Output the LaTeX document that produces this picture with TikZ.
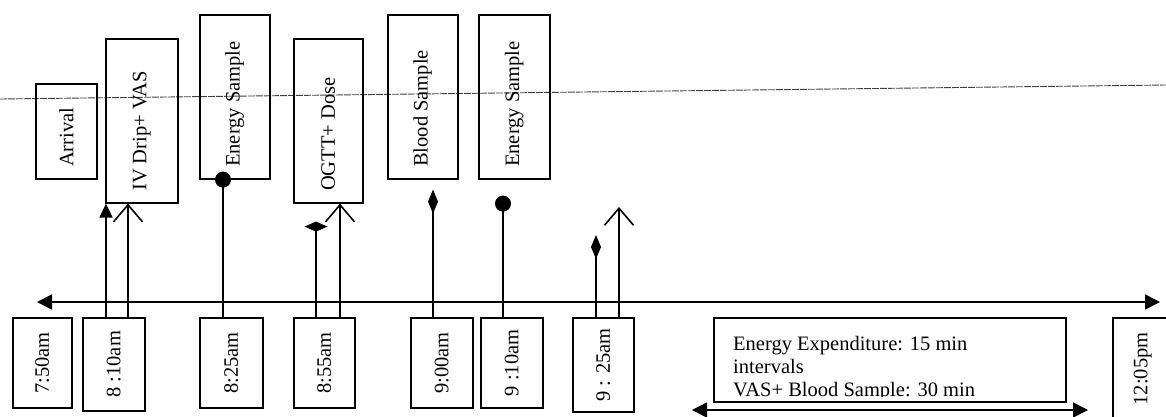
\documentclass[tikz,border=0pt]{standalone}
\usepackage{fontspec}
\setmainfont{Liberation Serif}
\usepackage{graphicx}
\usetikzlibrary{arrows.meta,calc}

\newcommand{\uptext}[1]{\rotatebox{90}{#1}}
\newcommand{\upleft}[2]{\rotatebox{90}{\makebox[#1pt][l]{#2}}}

\begin{document}
\begin{tikzpicture}[
    x=1pt, y=-1pt,
    every node/.style={font=\fontsize{20.5}{23}\selectfont},
    tbox/.style={rectangle, draw, line width=1.6pt, anchor=north west, inner sep=0pt, minimum height=90pt},
    ebox/.style={rectangle, draw, line width=1.6pt, anchor=north west, inner sep=0pt, minimum height=164pt},
    conn/.style={line width=1.6pt},
    fillarr/.style={conn, -{Triangle[length=14pt,width=13pt]}},
    openarr/.style={conn, -{Straight Barb[length=17pt,width=29pt]}},
    diamarr/.style={conn, -{Diamond[length=24pt,width=10pt]}},
    flatdiam/.style={conn, -{Diamond[length=10pt,width=23pt]}},
    dotline/.style={conn, -{Circle[length=16pt]}},
    both/.style={conn, {Triangle[length=15pt,width=15pt]}-{Triangle[length=15pt,width=15pt]}}
]
\clip (0,0) rectangle (1166,416);

% fold line of the scan
\draw[line width=0.9pt, black!75, dash pattern=on 7pt off 1pt] (0,99) -- (1166,85);

% events
\node[ebox, minimum width=61pt, minimum height=95pt] (arrival) at (35,83) {\upleft{71}{Arrival}};
\node[ebox, minimum width=72pt] (iv) at (105,38) {\upleft{140}{IV Drip+ VAS}};
\node[ebox, minimum width=70pt] (es1) at (199,14) {\upleft{140}{Energy Sample}};
\node[ebox, minimum width=69pt] (ogtt) at (293,38) {\upleft{140}{OGTT+ Dose}};
\node[ebox, minimum width=70pt] (blood) at (387,14) {\upleft{140}{Blood Sample}};
\node[ebox, minimum width=71pt] (es2) at (478,14) {\upleft{140}{Energy Sample}};

% times
\node[tbox, minimum width=59pt] (t750) at (12,317) {\uptext{7:50am}};
\node[tbox, minimum width=62pt, minimum height=93pt] (t810) at (82,317) {\uptext{8 :10am}};
\node[tbox, minimum width=63pt] (t825) at (199,317) {\uptext{8:25am}};
\node[tbox, minimum width=61pt] (t855) at (293,317) {\uptext{8:55am}};
\node[tbox, minimum width=62pt] (t900) at (410,317) {\uptext{9:00am}};
\node[tbox, minimum width=62pt] (t910) at (480,317) {\uptext{9 :10am}};
\node[tbox, minimum width=61pt, minimum height=94pt] (t925) at (572,317) {\uptext{9 : 25am}};
\node[tbox, minimum width=60pt, minimum height=102pt] (t1205) at (1112,317) {\uptext{12:05pm}};

% timeline
\coordinate (tl-start) at (37,302);
\coordinate (tl-end) at (1160,302);
\draw[both] (tl-start) -- (tl-end);

% markers
\draw[fillarr] ([xshift=24pt]t810.north west) -- ([xshift=1pt]iv.south west);
\draw[openarr] ([xshift=46pt]t810.north west) -- ([xshift=23pt]iv.south west);
\draw[dotline, shorten >=-8pt] ([xshift=24pt]t825.north west) -- ([xshift=24pt]es1.south west);
\draw[flatdiam, shorten >=18pt] ([xshift=23pt]t855.north west) -- ([xshift=23pt]ogtt.south west);
\draw[openarr] ([xshift=47pt]t855.north west) -- ([xshift=47pt]ogtt.south west);
\draw[diamarr, shorten >=10pt] ([xshift=23pt]t900.north west) -- ([xshift=46pt]blood.south west);
\draw[dotline, shorten >=16pt] ([xshift=23pt]t910.north west) -- ([xshift=25pt]es2.south west);
\coordinate (d925) at (596,235);
\coordinate (a925) at (619,207);
\draw[diamarr] ([xshift=24pt]t925.north west) -- (d925);
\draw[openarr] ([xshift=47pt]t925.north west) -- (a925);

% interval box
\node[rectangle, draw, line width=1.6pt, anchor=north west, minimum width=352pt, minimum height=84pt] (ee) at (713,317) {};
\begin{scope}
\clip ([yshift=6pt]ee.south west) rectangle (ee.north east);
\node[anchor=north west, inner sep=0pt, align=left] (eetext) at (733,336) {Energy Expenditure: 15 min\\intervals\\VAS+ Blood Sample: 30 min};
\end{scope}
\coordinate (ee-start) at (692,410);
\coordinate (ee-end) at (1088,410);
\draw[both] (ee-start) -- (ee-end);

\end{tikzpicture}
\end{document}
